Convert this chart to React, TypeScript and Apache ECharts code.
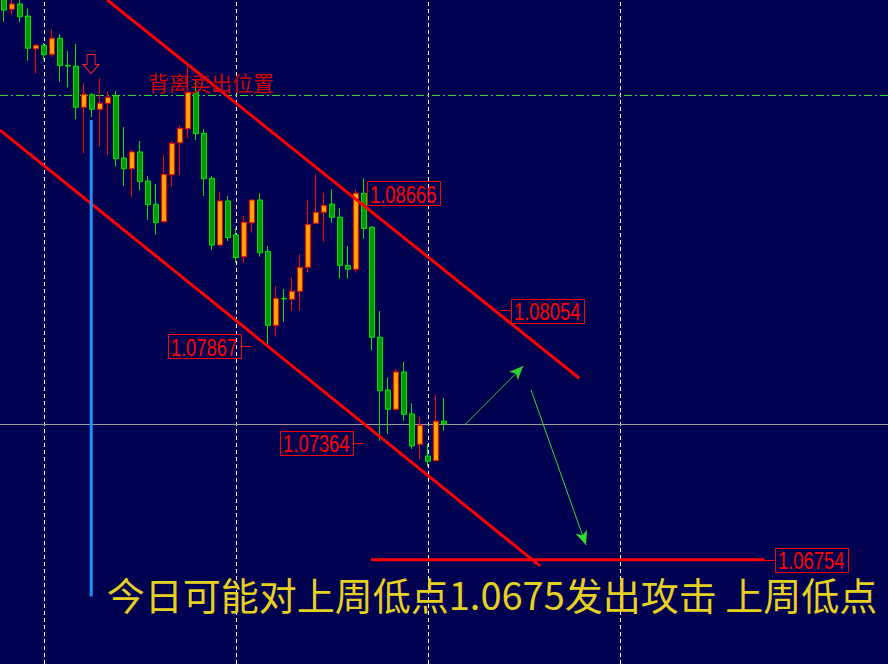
import React, { useEffect, useRef } from "react";
import * as echarts from "echarts";

// ---- data ----
const categories = Array.from({ length: 111 }, (_, i) => `${i + 1}`);

const opens = [
  1.0969, 1.09626, 1.09654, 1.09591, 1.0942, 1.09438, 1.09391, 1.09475, 1.09334, 1.09329,
  1.09115, 1.0918, 1.09104, 1.09136, 1.09174, 1.0885, 1.08794, 1.08882, 1.0873, 1.08609,
  1.08518, 1.08763, 1.0893, 1.09003, 1.09193, 1.08979, 1.08744, 1.08396, 1.08626, 1.08449,
  1.08335, 1.08513, 1.08631, 1.08363, 1.07977, 1.08118, 1.08113, 1.08155, 1.0828, 1.0851,
  1.08567, 1.0861, 1.08541, 1.0829, 1.0827, 1.08666, 1.08489, 1.07915, 1.0764, 1.07539,
  1.07734, 1.07515, 1.07357, 1.07296, 1.07271, 1.07477,
];
const highs = [
  1.09716, 1.0969, 1.0969, 1.09631, 1.09445, 1.0945, 1.09522, 1.09496, 1.09408, 1.09445,
  1.0924, 1.09189, 1.09266, 1.09196, 1.092, 1.09012, 1.08892, 1.08939, 1.08756, 1.08715,
  1.08866, 1.08939, 1.09022, 1.09327, 1.09257, 1.09002, 1.08756, 1.08673, 1.08652, 1.08485,
  1.08548, 1.08636, 1.08666, 1.08391, 1.08182, 1.08167, 1.08228, 1.08349, 1.08631, 1.08767,
  1.08669, 1.08687, 1.08588, 1.08391, 1.08687, 1.08744, 1.08496, 1.08052, 1.07706, 1.07748,
  1.07786, 1.07571, 1.07499, 1.07358, 1.07614, 1.07598,
];
const lows = [
  1.09561, 1.09596, 1.09561, 1.09358, 1.09292, 1.09362, 1.09376, 1.09248, 1.09219, 1.09052,
  1.08875, 1.09064, 1.08909, 1.08866, 1.08805, 1.08704, 1.08648, 1.0868, 1.08527, 1.08449,
  1.0851, 1.087, 1.08762, 1.08955, 1.08944, 1.08652, 1.0837, 1.0839, 1.08417, 1.08304,
  1.08304, 1.08461, 1.08335, 1.07869, 1.07918, 1.07996, 1.08054, 1.08054, 1.08252, 1.08503,
  1.08414, 1.08513, 1.08221, 1.08221, 1.08252, 1.08429, 1.07845, 1.07375, 1.0741, 1.07532,
  1.0748, 1.07332, 1.07278, 1.0724, 1.07269, 1.07428,
];
const closes = [
  1.09622, 1.09654, 1.09587, 1.09423, 1.09438, 1.09389, 1.09475, 1.09332, 1.0933, 1.09115,
  1.09183, 1.09104, 1.09136, 1.09167, 1.08847, 1.08794, 1.08882, 1.08727, 1.08607, 1.08513,
  1.08765, 1.08927, 1.09005, 1.09193, 1.08977, 1.08742, 1.08396, 1.08626, 1.08435, 1.08331,
  1.08515, 1.08631, 1.08356, 1.07977, 1.08118, 1.08115, 1.08155, 1.0828, 1.08504, 1.08567,
  1.08603, 1.08541, 1.0829, 1.0827, 1.08666, 1.08483, 1.07915, 1.07636, 1.07539, 1.07734,
  1.07513, 1.07348, 1.07456, 1.07268, 1.07477, 1.07463,
];

const priceMin = 1.062104;
const priceMax = 1.096745;
const barMin = -0.5;
const barMax = 110.5;

const separatorBars = [5, 29, 53, 77];
const sellLevel = 1.09177;
const bidPrice = 1.07463;

const upperChannel = [
  [12.91, 1.096745],
  [71.91, 1.07701],
];
const lowerChannel = [
  [-0.5, 1.08996],
  [67.0, 1.06722],
];
const weekLowLine = [
  [45.88, 1.06754],
  [95.06, 1.06754],
];
const blueLine = [
  [10.9, 1.09048],
  [10.9, 1.06562],
];
const arrowUp = [
  [57.54, 1.07456],
  [64.91, 1.07765],
];
const arrowDown = [
  [65.88, 1.0764],
  [72.75, 1.06831],
];

const priceTags = [
  { text: "1.08666", at: [49.9, 1.08666], tick: null as null | number[][] },
  { text: "1.08054", at: [67.9, 1.08054], tick: [[62.0, 1.08054], [63.3, 1.08054]] },
  { text: "1.07867", at: [25.0, 1.07867], tick: [[29.6, 1.07867], [30.9, 1.07867]] },
  { text: "1.07364", at: [39.04, 1.07364], tick: [[43.7, 1.07364], [44.95, 1.07364]] },
  { text: "1.06754", at: [100.9, 1.06754], tick: [[95.06, 1.06754], [96.3, 1.06754]] },
];

const sellNote = { text: "背离卖出位置", at: [25.875, 1.09249] };
const sellArrowAt = [10.88, 1.09341];
const mainNote = { text: "今日可能对上周低点1.0675发出攻击 上周低点", at: [61.0, 1.06578] };

export default function App() {
  const ref = useRef<HTMLDivElement>(null);

  useEffect(() => {
    if (!ref.current) return;
    const chart = echarts.init(ref.current, undefined, { renderer: "svg" });

    const candleData = opens.map((o, i) => [o, closes[i], lows[i], highs[i]]);

    const hLine = (p: number, style: any) => [
      { coord: [barMin, p], symbol: "none" },
      { coord: [barMax, p], symbol: "none", lineStyle: style },
    ];

    const guideLines: any[] = [
      ...separatorBars.map((b) => ({
        xAxis: b,
        lineStyle: { color: "#ffffff", width: 1, type: [4, 3] },
      })),
      hLine(sellLevel, { color: "#33dd33", width: 1, type: [8, 3, 2, 3] }),
      hLine(bidPrice, { color: "#9a9a9a", width: 1, type: "solid" }),
    ];

    const arrowLine = (a: number[][], color: string) => [
      { coord: a[0], symbol: "none" },
      {
        coord: a[1],
        symbol: "arrow",
        symbolSize: [9, 14],
        lineStyle: { color, width: 1, type: "solid" },
      },
    ];

    const annotLines: any[] = [
      arrowLine(arrowUp, "#30d030"),
      arrowLine(arrowDown, "#30e030"),
      ...priceTags
        .filter((t) => t.tick)
        .map((t) => [
          { coord: t.tick![0], symbol: "none" },
          { coord: t.tick![1], symbol: "none", lineStyle: { color: "#ff0000", width: 1, type: "solid" } },
        ]),
    ];

    const points: any[] = [
      {
        coord: sellNote.at,
        symbol: "rect",
        symbolSize: 0,
        label: {
          show: true,
          position: "inside",
          formatter: sellNote.text,
          color: "#d00000",
          fontFamily: "'Noto Sans CJK SC', sans-serif",
          fontSize: 21,
        },
      },
      {
        coord: mainNote.at,
        symbol: "rect",
        symbolSize: 0,
        label: {
          show: true,
          position: "inside",
          formatter: mainNote.text,
          color: "#e8d020",
          fontFamily: "'Noto Sans CJK SC', sans-serif",
          fontSize: 38,
        },
      },
      {
        coord: sellArrowAt,
        symbol: "path://M4,0L12,0L12,10L16,10L8,19L0,10L4,10Z",
        symbolSize: [16, 19],
        itemStyle: { color: "rgba(0,0,0,0)", borderColor: "#ff2020", borderWidth: 1 },
        label: { show: false },
      },
    ];

    chart.setOption({
      animation: false,
      backgroundColor: "#000050",
      grid: { left: 0, right: 0, top: 0, bottom: 0, containLabel: false },
      xAxis: [
        { type: "category", data: categories, boundaryGap: true, show: false },
        { type: "value", min: barMin, max: barMax, show: false },
      ],
      yAxis: {
        type: "value",
        min: priceMin,
        max: priceMax,
        scale: true,
        show: false,
        splitLine: { show: false },
      },
      series: [
        {
          type: "candlestick",
          xAxisIndex: 0,
          yAxisIndex: 0,
          data: candleData,
          barWidth: 5,
          silent: true,
          z: 2,
          itemStyle: {
            color: "#ffa500",
            color0: "#009a00",
            borderColor: "#ff0000",
            borderColor0: "#00e600",
            borderWidth: 1,
          },
        },
        {
          type: "line",
          xAxisIndex: 1,
          yAxisIndex: 0,
          data: upperChannel,
          symbol: "none",
          silent: true,
          z: 3,
          lineStyle: { color: "#ff0000", width: 3 },
          markLine: {
            z: 1,
            silent: true,
            symbol: ["none", "none"],
            label: { show: false },
            data: guideLines,
          },
        },
        {
          type: "line",
          xAxisIndex: 1,
          yAxisIndex: 0,
          data: lowerChannel,
          symbol: "none",
          silent: true,
          z: 3,
          lineStyle: { color: "#ff0000", width: 3 },
        },
        {
          type: "line",
          xAxisIndex: 1,
          yAxisIndex: 0,
          data: weekLowLine,
          symbol: "none",
          silent: true,
          z: 3,
          lineStyle: { color: "#ff0000", width: 3 },
        },
        {
          type: "line",
          xAxisIndex: 1,
          yAxisIndex: 0,
          data: blueLine,
          symbol: "none",
          silent: true,
          z: 3,
          lineStyle: { color: "#1e90ff", width: 3 },
          markLine: {
            z: 5,
            silent: true,
            symbol: ["none", "none"],
            symbolSize: [9, 14],
            label: { show: false },
            data: annotLines,
          },
          markPoint: {
            z: 6,
            silent: true,
            data: points,
          },
        },
      ],
    });

    // price tags: boxed labels placed through the chart's own scales
    const tagGraphics: any[] = [];
    priceTags.forEach((t) => {
      const pt = chart.convertToPixel({ xAxisIndex: 1, yAxisIndex: 0 }, t.at) as number[];
      if (!pt) return;
      const [cx, cy] = pt;
      tagGraphics.push({
        type: "rect",
        z: 100,
        silent: true,
        shape: { x: Math.round(cx - 36.5) + 0.5, y: Math.round(cy - 12) + 0.5, width: 73, height: 24 },
        style: { fill: "rgba(0,0,0,0)", stroke: "#ff0000", lineWidth: 1 },
      });
      tagGraphics.push({
        type: "text",
        z: 101,
        silent: true,
        x: cx,
        y: cy + 1,
        scaleX: 0.8,
        style: {
          text: t.text,
          fill: "#ff0000",
          font: "23px 'Liberation Sans', Arial, sans-serif",
          textAlign: "center",
          textVerticalAlign: "middle",
        },
      });
    });
    chart.setOption({ graphic: tagGraphics });

    return () => chart.dispose();
  }, []);

  return (
    <div
      ref={ref}
      style={{ position: "fixed", left: 0, top: 0, width: 888, height: 664 }}
    />
  );
}
